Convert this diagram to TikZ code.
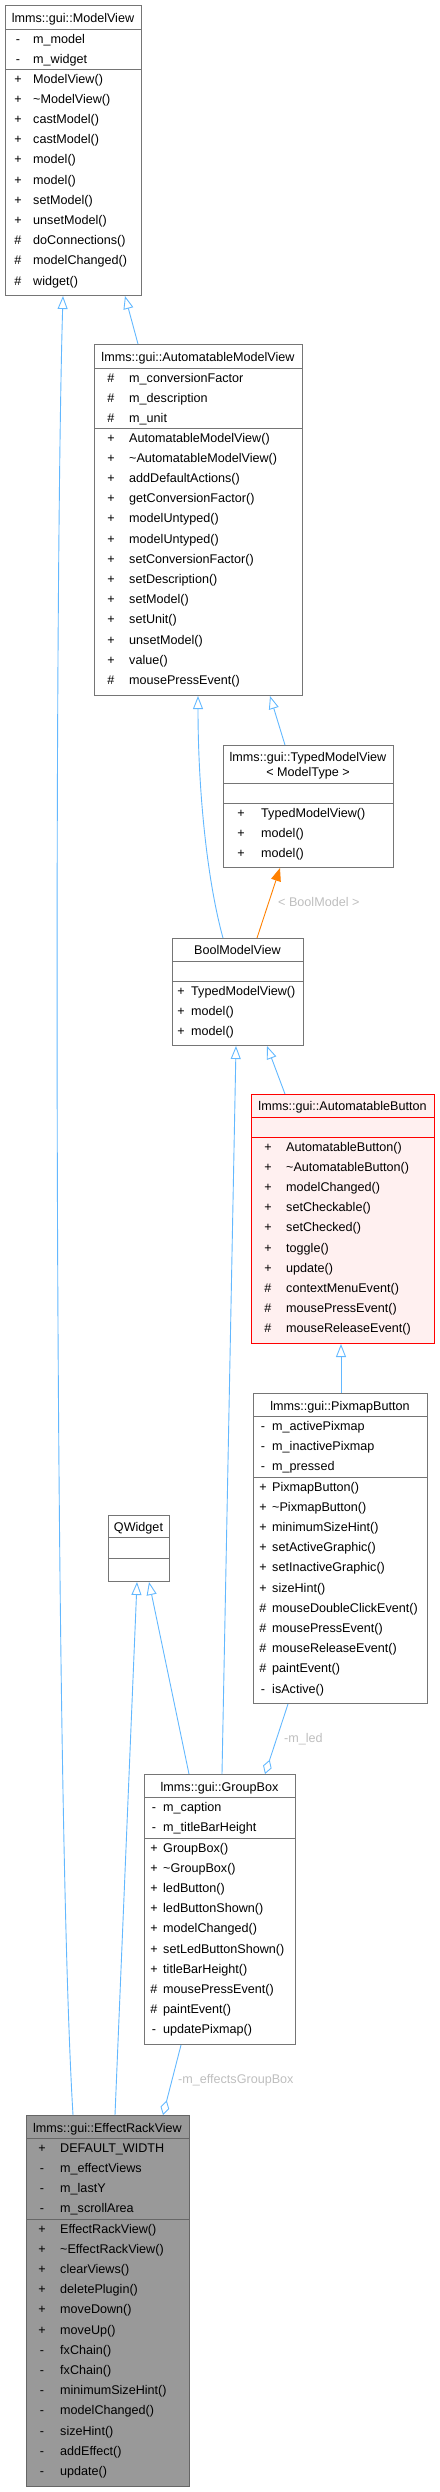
\documentclass[tikz,border=0pt]{standalone}
\usepackage{fontspec}
\setmainfont{Liberation Sans}
\usepackage{tikz}
\usetikzlibrary{arrows.meta,positioning,calc}

\definecolor{edgeblue}{HTML}{63B8FF}
\definecolor{boxgray}{HTML}{757575}
\definecolor{lblgray}{HTML}{BEBEBE}
\definecolor{rackfill}{HTML}{999999}
\definecolor{rackdraw}{HTML}{666666}
\definecolor{btnfill}{HTML}{FFF0F0}

\begin{document}
\begin{tikzpicture}[x=1pt,y=-1pt,>=Stealth,
  box/.style={draw=boxgray,line width=1pt,fill=white,anchor=north west,inner sep=0pt},
  sep/.style={draw=boxgray,line width=1pt},
  txt/.style={inner sep=0pt,text height=9pt,text depth=2.7pt,font=\fontsize{12.6}{15}\selectfont},
  row/.style={txt,anchor=west},
  sym/.style={txt,anchor=center},
  lbl/.style={txt,anchor=west,text=lblgray},
  inh/.style={draw=edgeblue,line width=0.9pt,-{Triangle[open,length=13pt,width=10pt]}},
  tmpl/.style={draw=orange,line width=0.9pt,-{Triangle[length=13pt,width=10pt]}},
  usage/.style={draw=edgeblue,line width=0.9pt,-{Diamond[open,length=15pt,width=9pt]}}]
  \useasboundingbox (0,0) rectangle (439,2492);

  % lmms::gui::ModelView
  \node[box,minimum width=136pt,minimum height=290pt] (mv) at (5,5) {};
  \draw[sep] (5,29) -- (141,29) (5,69) -- (141,69);
  \node[sym] at (73,19) {lmms::gui::ModelView};
  \foreach \sy/\nm [count=\i from 0] in {-/m\_model,-/m\_widget}
    {\node[sym] at (18,{40+20.2*\i}) {\sy}; \node[row] at (33,{40+20.2*\i}) {\nm};}
  \foreach \sy/\nm [count=\i from 0] in {+/ModelView(),+/\textasciitilde ModelView(),+/castModel(),+/castModel(),
      +/model(),+/model(),+/setModel(),+/unsetModel(),\#/doConnections(),\#/modelChanged(),\#/widget()}
    {\node[sym] at (18,{80+20.2*\i}) {\sy}; \node[row] at (33,{80+20.2*\i}) {\nm};}

  % lmms::gui::AutomatableModelView
  \node[box,minimum width=208pt,minimum height=351pt] (amv) at (94,344) {};
  \draw[sep] (94,368) -- (302,368) (94,428) -- (302,428);
  \node[sym] at (198,358) {lmms::gui::AutomatableModelView};
  \foreach \sy/\nm [count=\i from 0] in {\#/m\_conversionFactor,\#/m\_description,\#/m\_unit}
    {\node[sym] at (111,{379+20.2*\i}) {\sy}; \node[row] at (129,{379+20.2*\i}) {\nm};}
  \foreach \sy/\nm [count=\i from 0] in {+/AutomatableModelView(),+/\textasciitilde AutomatableModelView(),
      +/addDefaultActions(),+/getConversionFactor(),+/modelUntyped(),+/modelUntyped(),
      +/setConversionFactor(),+/setDescription(),+/setModel(),+/setUnit(),+/unsetModel(),
      +/value(),\#/mousePressEvent()}
    {\node[sym] at (111,{439+20.2*\i}) {\sy}; \node[row] at (129,{439+20.2*\i}) {\nm};}

  % lmms::gui::TypedModelView< ModelType >
  \node[box,minimum width=170pt,minimum height=122pt] (tmv) at (223,745) {};
  \draw[sep] (223,783) -- (393,783) (223,803) -- (393,803);
  \node[sym] at (308,758) {lmms::gui::TypedModelView};
  \node[sym] at (308,773) {< ModelType >};
  \foreach \sy/\nm [count=\i from 0] in {+/TypedModelView(),+/model(),+/model()}
    {\node[sym] at (241,{814+20.2*\i}) {\sy}; \node[row] at (261,{814+20.2*\i}) {\nm};}

  % BoolModelView
  \node[box,minimum width=131pt,minimum height=107pt] (bmv) at (172,938) {};
  \draw[sep] (172,961) -- (303,961) (172,981) -- (303,981);
  \node[sym] at (237.5,951) {BoolModelView};
  \foreach \sy/\nm [count=\i from 0] in {+/TypedModelView(),+/model(),+/model()}
    {\node[sym] at (181,{992+20.2*\i}) {\sy}; \node[row] at (191,{992+20.2*\i}) {\nm};}

  % lmms::gui::AutomatableButton
  \node[box,draw=red,fill=btnfill,minimum width=183pt,minimum height=249pt] (ab) at (251,1094) {};
  \draw[sep,draw=red] (251,1117) -- (434,1117) (251,1137) -- (434,1137);
  \node[sym] at (342.5,1107) {lmms::gui::AutomatableButton};
  \foreach \sy/\nm [count=\i from 0] in {+/AutomatableButton(),+/\textasciitilde AutomatableButton(),
      +/modelChanged(),+/setCheckable(),+/setChecked(),+/toggle(),+/update(),
      \#/contextMenuEvent(),\#/mousePressEvent(),\#/mouseReleaseEvent()}
    {\node[sym] at (268,{1148+20.2*\i}) {\sy}; \node[row] at (286,{1148+20.2*\i}) {\nm};}

  % lmms::gui::PixmapButton
  \node[box,minimum width=174pt,minimum height=310pt] (pb) at (253,1393) {};
  \draw[sep] (253,1416) -- (427,1416) (253,1477) -- (427,1477);
  \node[sym] at (340,1407) {lmms::gui::PixmapButton};
  \foreach \sy/\nm [count=\i from 0] in {-/m\_activePixmap,-/m\_inactivePixmap,-/m\_pressed}
    {\node[sym] at (263,{1427+20.2*\i}) {\sy}; \node[row] at (272,{1427+20.2*\i}) {\nm};}
  \foreach \sy/\nm [count=\i from 0] in {+/PixmapButton(),+/\textasciitilde PixmapButton(),+/minimumSizeHint(),
      +/setActiveGraphic(),+/setInactiveGraphic(),+/sizeHint(),\#/mouseDoubleClickEvent(),
      \#/mousePressEvent(),\#/mouseReleaseEvent(),\#/paintEvent(),-/isActive()}
    {\node[sym] at (263,{1488+20.2*\i}) {\sy}; \node[row] at (272,{1488+20.2*\i}) {\nm};}

  % QWidget
  \node[box,minimum width=61pt,minimum height=66pt] (qw) at (108,1515) {};
  \draw[sep] (108,1537) -- (169,1537) (108,1558) -- (169,1558);
  \node[sym] at (138.5,1528) {QWidget};

  % lmms::gui::GroupBox
  \node[box,minimum width=151pt,minimum height=270pt] (gb) at (144,1774) {};
  \draw[sep] (144,1797) -- (295,1797) (144,1838) -- (295,1838);
  \node[sym] at (219.5,1788) {lmms::gui::GroupBox};
  \foreach \sy/\nm [count=\i from 0] in {-/m\_caption,-/m\_titleBarHeight}
    {\node[sym] at (154,{1808+20.2*\i}) {\sy}; \node[row] at (163,{1808+20.2*\i}) {\nm};}
  \foreach \sy/\nm [count=\i from 0] in {+/GroupBox(),+/\textasciitilde GroupBox(),+/ledButton(),
      +/ledButtonShown(),+/modelChanged(),+/setLedButtonShown(),+/titleBarHeight(),
      \#/mousePressEvent(),\#/paintEvent(),-/updatePixmap()}
    {\node[sym] at (154,{1849+20.2*\i}) {\sy}; \node[row] at (163,{1849+20.2*\i}) {\nm};}

  % lmms::gui::EffectRackView
  \node[box,draw=rackdraw,fill=rackfill,minimum width=163pt,minimum height=371pt] (erv) at (26,2115) {};
  \draw[sep,draw=rackdraw] (26,2138) -- (189,2138) (26,2219) -- (189,2219);
  \node[sym] at (107.5,2129) {lmms::gui::EffectRackView};
  \foreach \sy/\nm [count=\i from 0] in {+/DEFAULT\_WIDTH,-/m\_effectViews,-/m\_lastY,-/m\_scrollArea}
    {\node[sym] at (42,{2149+20.2*\i}) {\sy}; \node[row] at (60,{2149+20.2*\i}) {\nm};}
  \foreach \sy/\nm [count=\i from 0] in {+/EffectRackView(),+/\textasciitilde EffectRackView(),+/clearViews(),
      +/deletePlugin(),+/moveDown(),+/moveUp(),-/fxChain(),-/fxChain(),-/minimumSizeHint(),
      -/modelChanged(),-/sizeHint(),-/addEffect(),-/update()}
    {\node[sym] at (42,{2230+20.2*\i}) {\sy}; \node[row] at (60,{2230+20.2*\i}) {\nm};}

  % inheritance
  \draw[inh] ([xshift=44pt]amv.north west) -- ([xshift=120pt]mv.south west);
  \draw[inh] ([xshift=47pt]erv.north west) .. controls (54,1800) and (54,600) .. ([xshift=58pt]mv.south west);
  \draw[inh] ([xshift=62pt]tmv.north west) -- ([xshift=176pt]amv.south west);
  \draw[inh] ([xshift=51pt]bmv.north west) .. controls (207,880) and (198,790) .. ([xshift=104pt]amv.south west);
  \draw[inh] ([xshift=78pt]gb.north west) -- ([xshift=64pt]bmv.south west);
  \draw[inh] ([xshift=34pt]ab.north west) -- ([xshift=95pt]bmv.south west);
  \draw[inh] ([xshift=88pt]pb.north west) -- ([xshift=90pt]ab.south west);
  \draw[inh] ([xshift=45pt]gb.north west) -- ([xshift=41pt]qw.south west);
  \draw[inh] ([xshift=89pt]erv.north west) -- ([xshift=29pt]qw.south west);
  % template instance
  \draw[tmpl] ([xshift=85pt]bmv.north west) -- ([xshift=57pt]tmv.south west);
  \node[lbl] (tlbl) at (278,903) {< BoolModel >};
  % members
  \draw[usage] ([xshift=35pt]pb.south west) -- ([xshift=121pt]gb.north west);
  \node[lbl] (ledlbl) at (284,1739) {-m\_led};
  \draw[usage] ([xshift=37pt]gb.south west) -- ([xshift=137pt]erv.north west);
  \node[lbl] (gblbl) at (178,2080) {-m\_effectsGroupBox};
\end{tikzpicture}
\end{document}
